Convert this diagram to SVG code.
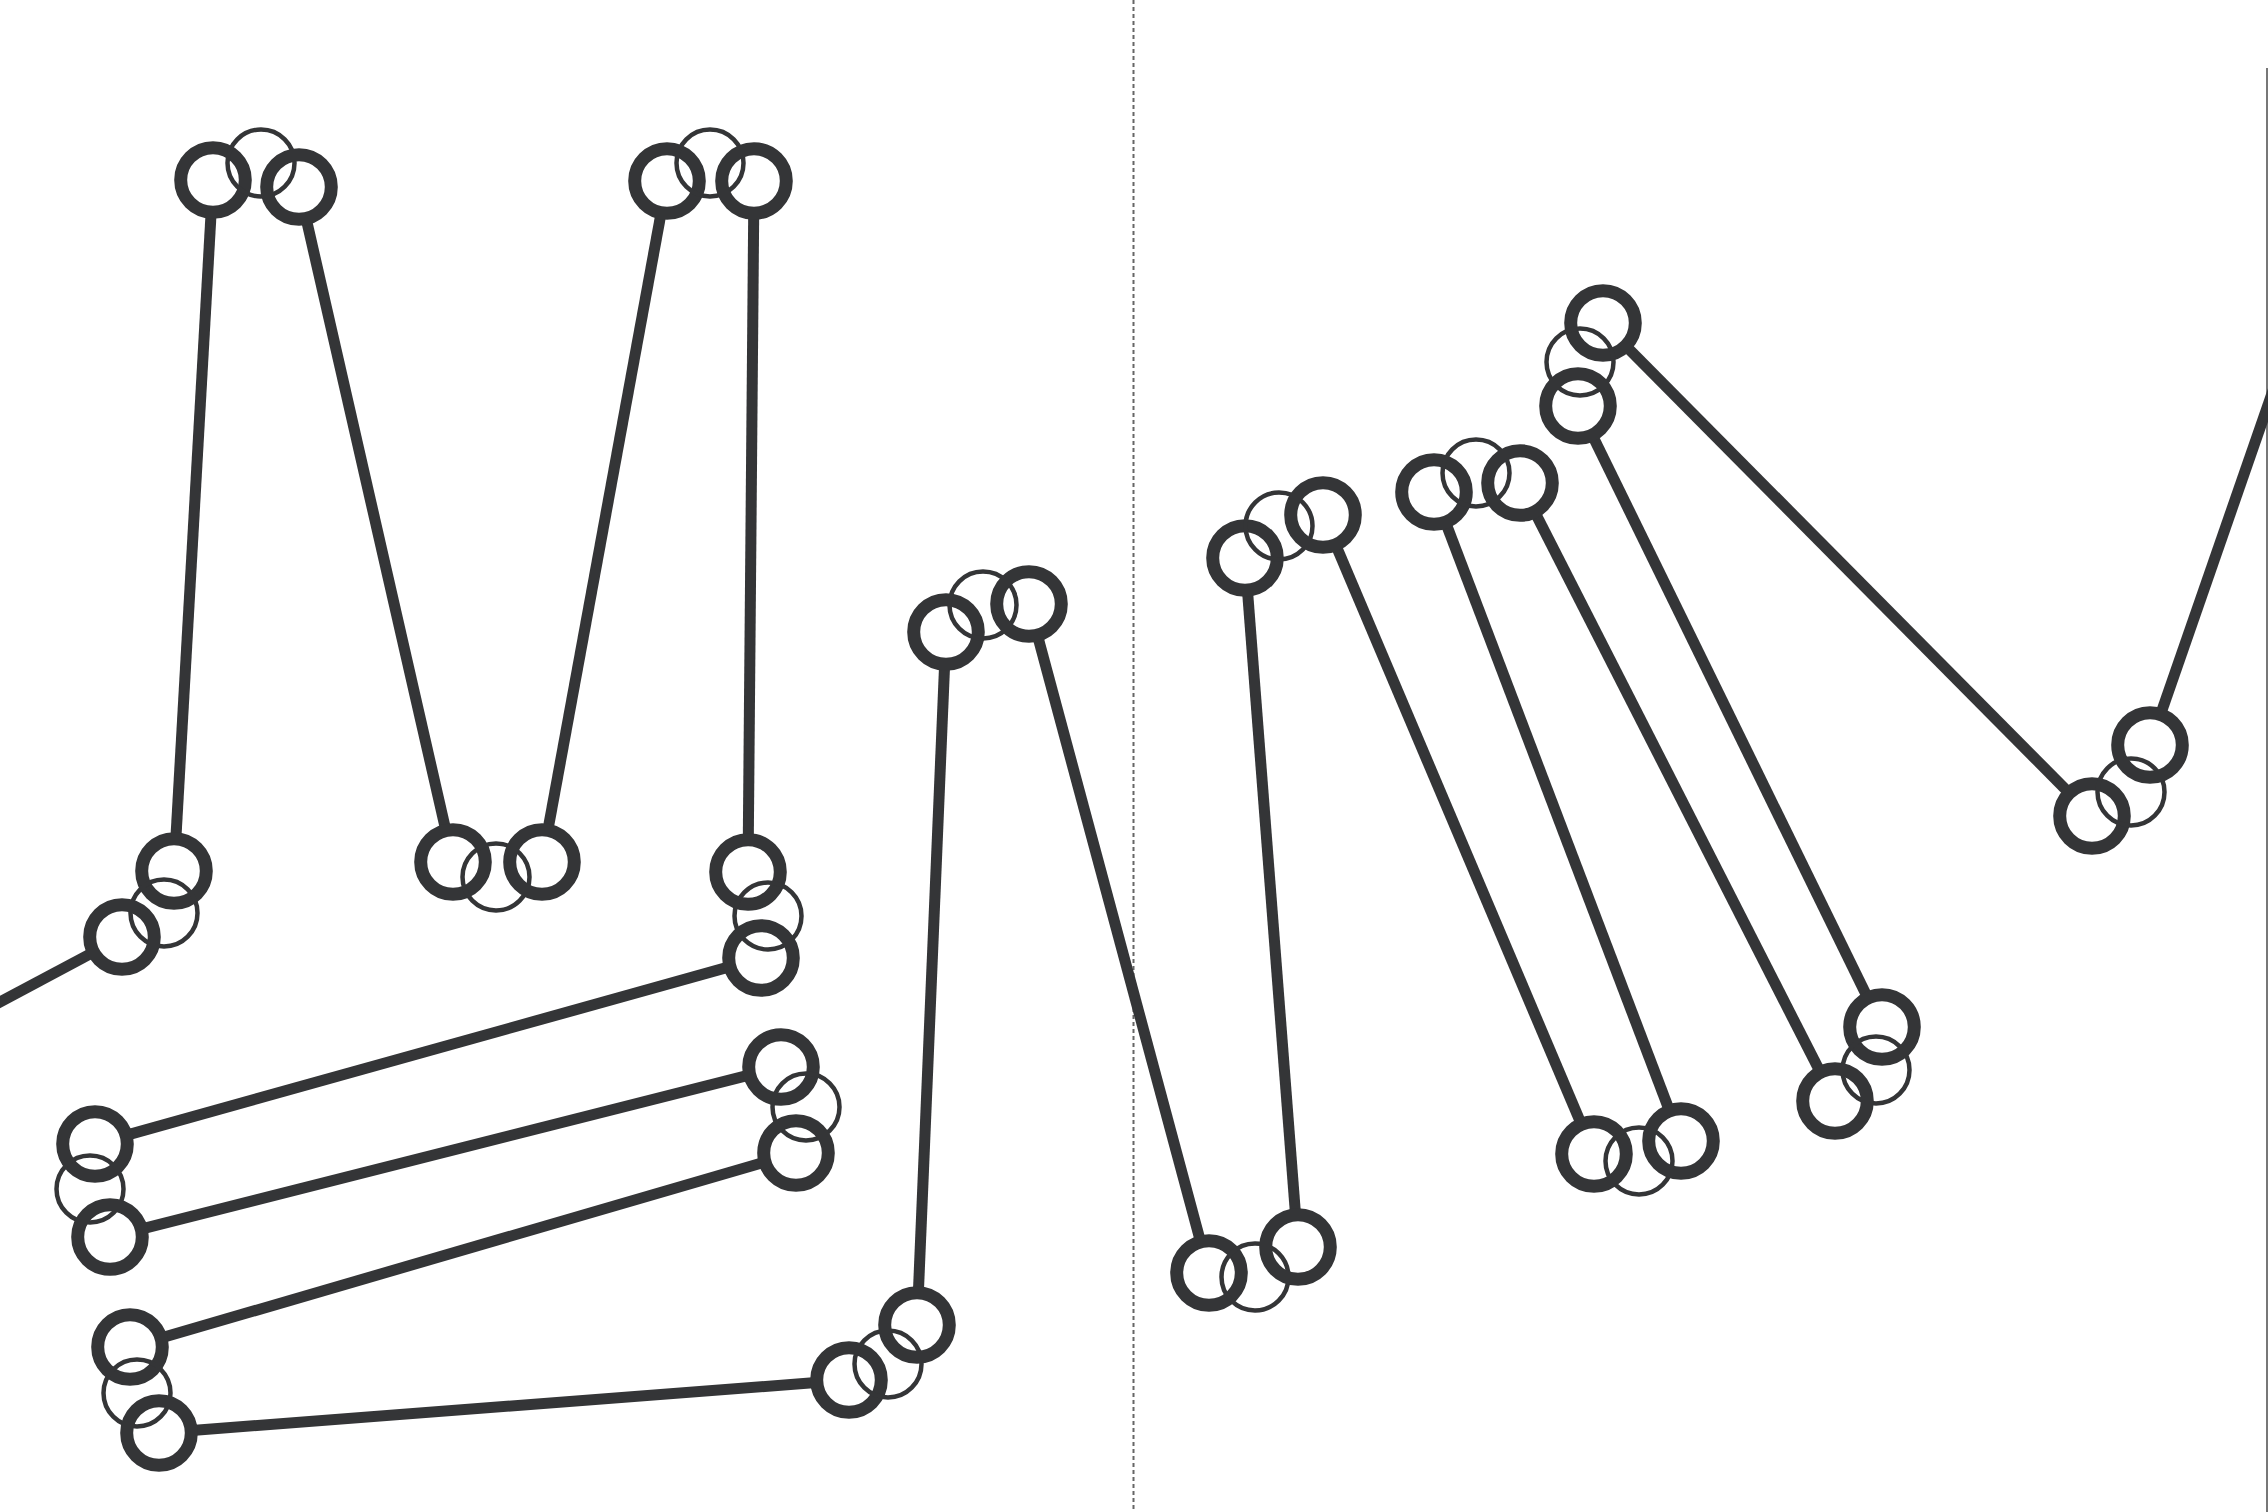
<svg xmlns="http://www.w3.org/2000/svg" width="2268" height="1512" viewBox="0 0 2268 1512">
<style>
.bg{fill:#ffffff}
.tk{fill:none;stroke:#343537;stroke-width:13}
.tn{fill:none;stroke:#343537;stroke-width:4.5}
.ln{stroke:#343537;stroke-width:11;fill:none}
.guide{stroke:#666;stroke-width:2;stroke-dasharray:4 3;fill:none}
.edge{stroke:#777;stroke-width:2;fill:none}
</style>
<rect class="bg" x="0" y="0" width="2268" height="1512"/>
<g id="guides">
<line class="guide" x1="1133.5" y1="0" x2="1133.5" y2="1512"/>
<line class="edge" x1="2267" y1="68" x2="2267" y2="1512"/>
</g>
<g id="connectors">
<line class="ln" x1="-30" y1="1018" x2="92.9" y2="952.5"/>
<line class="ln" x1="175.9" y1="838.1" x2="211.1" y2="212.9"/>
<line class="ln" x1="306.3" y1="219.2" x2="445.7" y2="829.8"/>
<line class="ln" x1="548.0" y1="829.5" x2="661.0" y2="213.5"/>
<line class="ln" x1="753.7" y1="214.0" x2="748.3" y2="839.0"/>
<line class="ln" x1="729.2" y1="966.9" x2="126.8" y2="1135.1"/>
<line class="ln" x1="142.0" y1="1228.9" x2="749.0" y2="1075.1"/>
<line class="ln" x1="764.3" y1="1162.2" x2="161.7" y2="1337.8"/>
<line class="ln" x1="191.9" y1="1430.5" x2="816.1" y2="1382.5"/>
<line class="ln" x1="918.4" y1="1292.0" x2="944.6" y2="665.0"/>
<line class="ln" x1="1037.6" y1="635.9" x2="1200.4" y2="1241.1"/>
<line class="ln" x1="1295.5" y1="1214.1" x2="1247.5" y2="590.9"/>
<line class="ln" x1="1335.9" y1="545.4" x2="1581.1" y2="1123.6"/>
<line class="ln" x1="1669.3" y1="1110.2" x2="1445.7" y2="522.8"/>
<line class="ln" x1="1535.0" y1="512.4" x2="1820.0" y2="1071.6"/>
<line class="ln" x1="1867.5" y1="997.4" x2="1592.5" y2="435.6"/>
<line class="ln" x1="1626.2" y1="346.4" x2="2068.8" y2="792.6"/>
<line class="ln" x1="2160.8" y1="713.8" x2="2376.9" y2="91.3"/>
</g>
<g id="node-a"><circle class="tk" cx="213" cy="180" r="32.3"/><circle class="tn" cx="261" cy="163" r="33.5"/><circle class="tk" cx="299" cy="187" r="32.3"/></g>
<g id="node-b"><circle class="tk" cx="667" cy="181" r="32.3"/><circle class="tn" cx="710" cy="163" r="33.5"/><circle class="tk" cx="754" cy="181" r="32.3"/></g>
<g id="node-c"><circle class="tk" cx="453" cy="862" r="32.3"/><circle class="tn" cx="496" cy="877" r="33.5"/><circle class="tk" cx="542" cy="862" r="32.3"/></g>
<g id="node-d"><circle class="tk" cx="174" cy="871" r="32.3"/><circle class="tn" cx="164" cy="913" r="33.5"/><circle class="tk" cx="122" cy="937" r="32.3"/></g>
<g id="node-e"><circle class="tk" cx="748" cy="872" r="32.3"/><circle class="tn" cx="768" cy="916" r="33.5"/><circle class="tk" cx="761" cy="958" r="32.3"/></g>
<g id="node-f"><circle class="tk" cx="95" cy="1144" r="32.3"/><circle class="tn" cx="90" cy="1189" r="33.5"/><circle class="tk" cx="110" cy="1237" r="32.3"/></g>
<g id="node-g"><circle class="tk" cx="781" cy="1067" r="32.3"/><circle class="tn" cx="806" cy="1107" r="33.5"/><circle class="tk" cx="796" cy="1153" r="32.3"/></g>
<g id="node-h"><circle class="tk" cx="130" cy="1347" r="32.3"/><circle class="tn" cx="137" cy="1393" r="33.5"/><circle class="tk" cx="159" cy="1433" r="32.3"/></g>
<g id="node-i"><circle class="tk" cx="849" cy="1380" r="32.3"/><circle class="tn" cx="888" cy="1364" r="33.5"/><circle class="tk" cx="917" cy="1325" r="32.3"/></g>
<g id="node-j"><circle class="tk" cx="946" cy="632" r="32.3"/><circle class="tn" cx="983" cy="605" r="33.5"/><circle class="tk" cx="1029" cy="604" r="32.3"/></g>
<g id="node-k"><circle class="tk" cx="1209" cy="1273" r="32.3"/><circle class="tn" cx="1255" cy="1277" r="33.5"/><circle class="tk" cx="1298" cy="1247" r="32.3"/></g>
<g id="node-l"><circle class="tk" cx="1245" cy="558" r="32.3"/><circle class="tn" cx="1279" cy="526" r="33.5"/><circle class="tk" cx="1323" cy="515" r="32.3"/></g>
<g id="node-m"><circle class="tk" cx="1434" cy="492" r="32.3"/><circle class="tn" cx="1476" cy="473" r="33.5"/><circle class="tk" cx="1520" cy="483" r="32.3"/></g>
<g id="node-n"><circle class="tk" cx="1594" cy="1154" r="32.3"/><circle class="tn" cx="1639" cy="1161" r="33.5"/><circle class="tk" cx="1681" cy="1141" r="32.3"/></g>
<g id="node-o"><circle class="tk" cx="1603" cy="323" r="32.3"/><circle class="tn" cx="1580" cy="362" r="33.5"/><circle class="tk" cx="1578" cy="406" r="32.3"/></g>
<g id="node-p"><circle class="tk" cx="1882" cy="1027" r="32.3"/><circle class="tn" cx="1876" cy="1070" r="33.5"/><circle class="tk" cx="1835" cy="1101" r="32.3"/></g>
<g id="node-q"><circle class="tk" cx="2092" cy="816" r="32.3"/><circle class="tn" cx="2131" cy="792" r="33.5"/><circle class="tk" cx="2150" cy="745" r="32.3"/></g>
</svg>
